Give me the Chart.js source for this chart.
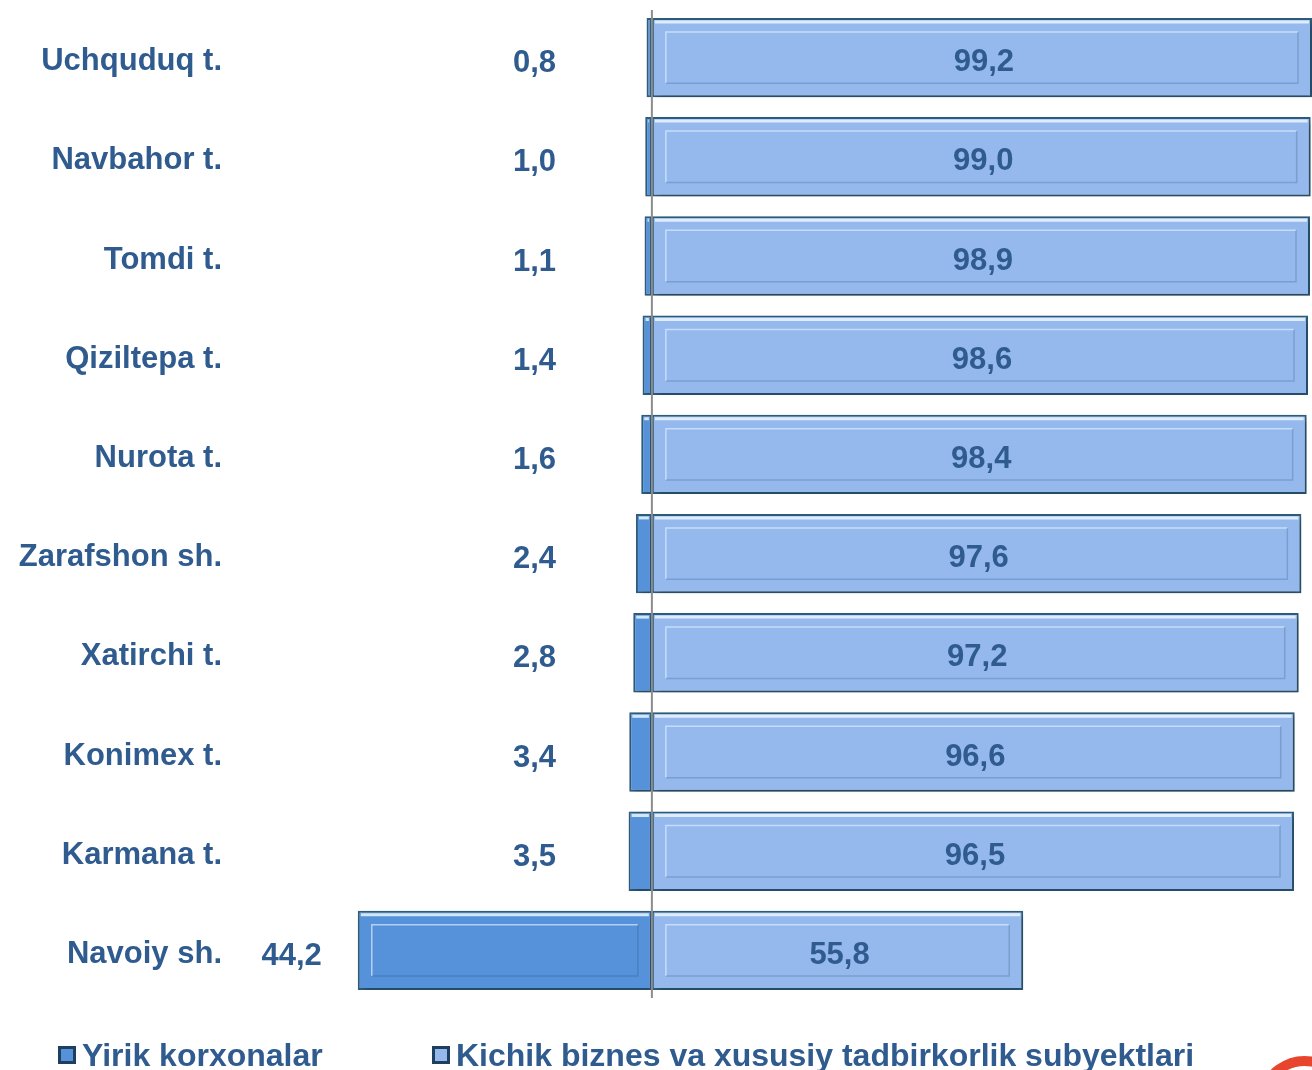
<!DOCTYPE html>
<html>
<head>
<meta charset="utf-8">
<script src="https://cdn.jsdelivr.net/npm/chart.js@4/dist/chart.umd.min.js"></script>
<style>
  body { margin: 0; background: #fff; }
  #wrap { width: 1312px; height: 1070px; position: relative; }
</style>
</head>
<body>
<div id="wrap"><canvas id="shareChart"></canvas></div>
<script>
const categories = ['Uchquduq t.', 'Navbahor t.', 'Tomdi t.', 'Qiziltepa t.', 'Nurota t.',
    'Zarafshon sh.', 'Xatirchi t.', 'Konimex t.', 'Karmana t.', 'Navoiy sh.'];
const largeShare = [0.8, 1.0, 1.1, 1.4, 1.6, 2.4, 2.8, 3.4, 3.5, 44.2];
const smallShare = [99.2, 99.0, 98.9, 98.6, 98.4, 97.6, 97.2, 96.6, 96.5, 55.8];
const seriesNames = ['Yirik korxonalar', 'Kichik biznes va xususiy tadbirkorlik subyektlari'];

const textColor = '#2F5B8F';
const leftColor = '#5592DA';
const rightColor = '#95B9ED';
const edgeColor = '#2F5E7E';
const labelFont = 'bold 31px "Liberation Sans", Arial, sans-serif';

const fmt = v => v.toFixed(1).replace('.', ',');

// soft drop shadow under the bars
const shadowPlugin = {
    id: 'shadow',
    beforeDatasetDraw(chart) {
        const ctx = chart.ctx;
        ctx.save();
        ctx.shadowColor = 'rgba(0,0,0,0.3)';
        ctx.shadowBlur = 7;
        ctx.shadowOffsetX = 3;
        ctx.shadowOffsetY = 3;
    },
    afterDatasetDraw(chart) {
        chart.ctx.restore();
    }
};

// bevel lines, zero line, value labels, legend
const decorPlugin = {
    id: 'decor',
    afterDatasetsDraw(chart) {
        const ctx = chart.ctx;
        const area = chart.chartArea;
        ctx.save();
        chart.data.datasets.forEach((ds, di) => {
            chart.getDatasetMeta(di).data.forEach(el => {
                const l = Math.min(el.x, el.base), r = Math.max(el.x, el.base);
                const t = el.y - el.height / 2, b = el.y + el.height / 2;
                if (r - l < 6) return;
                ctx.strokeStyle = 'rgba(235,245,255,0.85)';
                ctx.lineWidth = 3;
                ctx.beginPath();
                ctx.moveTo(l + 3, t + 4); ctx.lineTo(r - 3, t + 4);
                ctx.stroke();
                if (r - l > 40) {
                    const ins = 14;
                    ctx.lineWidth = 1.5;
                    ctx.strokeStyle = 'rgba(220,235,255,0.7)';
                    ctx.beginPath();
                    ctx.moveTo(l + ins, b - ins); ctx.lineTo(l + ins, t + ins); ctx.lineTo(r - ins, t + ins);
                    ctx.stroke();
                    ctx.strokeStyle = 'rgba(40,80,120,0.25)';
                    ctx.beginPath();
                    ctx.moveTo(r - ins, t + ins); ctx.lineTo(r - ins, b - ins); ctx.lineTo(l + ins, b - ins);
                    ctx.stroke();
                }
            });
        });

        const zero = chart.scales.x.getPixelForValue(0);
        ctx.strokeStyle = '#8C8C8C';
        ctx.lineWidth = 2;
        ctx.beginPath();
        ctx.moveTo(zero, area.top + 2);
        ctx.lineTo(zero, area.bottom - 2);
        ctx.stroke();

        ctx.font = labelFont;
        ctx.fillStyle = textColor;
        ctx.textBaseline = 'middle';
        chart.getDatasetMeta(0).data.forEach((el, i) => {
            const left = Math.min(el.x, el.base);
            ctx.textAlign = 'right';
            ctx.fillText(fmt(largeShare[i]), Math.min(left - 36, 556), el.y + 6);
        });
        chart.getDatasetMeta(1).data.forEach((el, i) => {
            ctx.textAlign = 'center';
            const right = Math.min(el.x, chart.width);
            ctx.fillText(fmt(smallShare[i]), (el.base + right) / 2 + 2, el.y + 5);
        });

        // legend
        const items = [[58, seriesNames[0], leftColor], [432, seriesNames[1], rightColor]];
        ctx.font = 'bold 32px "Liberation Sans", Arial, sans-serif';
        ctx.textAlign = 'left';
        ctx.textBaseline = 'alphabetic';
        items.forEach(([x, name, col]) => {
            ctx.fillStyle = '#1F3F5F';
            ctx.fillRect(x, 1046, 18, 18);
            ctx.fillStyle = col;
            ctx.fillRect(x + 3, 1049, 12, 12);
            ctx.fillStyle = textColor;
            ctx.fillText(name, x + 24, 1066);
        });

        // corner logo fragment
        ctx.strokeStyle = '#E8452E';
        ctx.lineWidth = 10;
        ctx.beginPath();
        ctx.arc(1305, 1105, 44, Math.PI * 1.05, Math.PI * 1.6);
        ctx.stroke();
        ctx.restore();
    }
};

const ctx = document.getElementById('shareChart').getContext('2d');
new Chart(ctx, {
    type: 'bar',
    data: {
        labels: categories,
        datasets: [{
            label: seriesNames[0],
            data: largeShare.map(v => -v),
            backgroundColor: leftColor,
            borderColor: edgeColor,
            borderWidth: 2,
            borderSkipped: false,
            barPercentage: 0.8,
            categoryPercentage: 1.0
        }, {
            label: seriesNames[1],
            data: smallShare,
            backgroundColor: rightColor,
            borderColor: edgeColor,
            borderWidth: 2,
            borderSkipped: false,
            barPercentage: 0.8,
            categoryPercentage: 1.0
        }]
    },
    options: {
        indexAxis: 'y',
        responsive: true,
        maintainAspectRatio: false,
        animation: false,
        layout: { padding: { top: 8, bottom: 70, left: 0, right: 0 } },
        plugins: { legend: { display: false }, tooltip: { enabled: false } },
        scales: {
            x: {
                stacked: true,
                display: false,
                min: -63.1,
                max: 99.2
            },
            y: {
                stacked: true,
                grid: { display: false, drawTicks: false },
                border: { display: false },
                ticks: {
                    color: textColor,
                    padding: 10,
                    labelOffset: 4,
                    font: { family: '"Liberation Sans", Arial, sans-serif', size: 31, weight: 'bold' }
                },
                afterFit(scale) {
                    scale.width = 232;
                    scale.paddingTop = 0;
                    scale.paddingBottom = 0;
                }
            }
        }
    },
    plugins: [shadowPlugin, decorPlugin]
});
</script>
</body>
</html>
